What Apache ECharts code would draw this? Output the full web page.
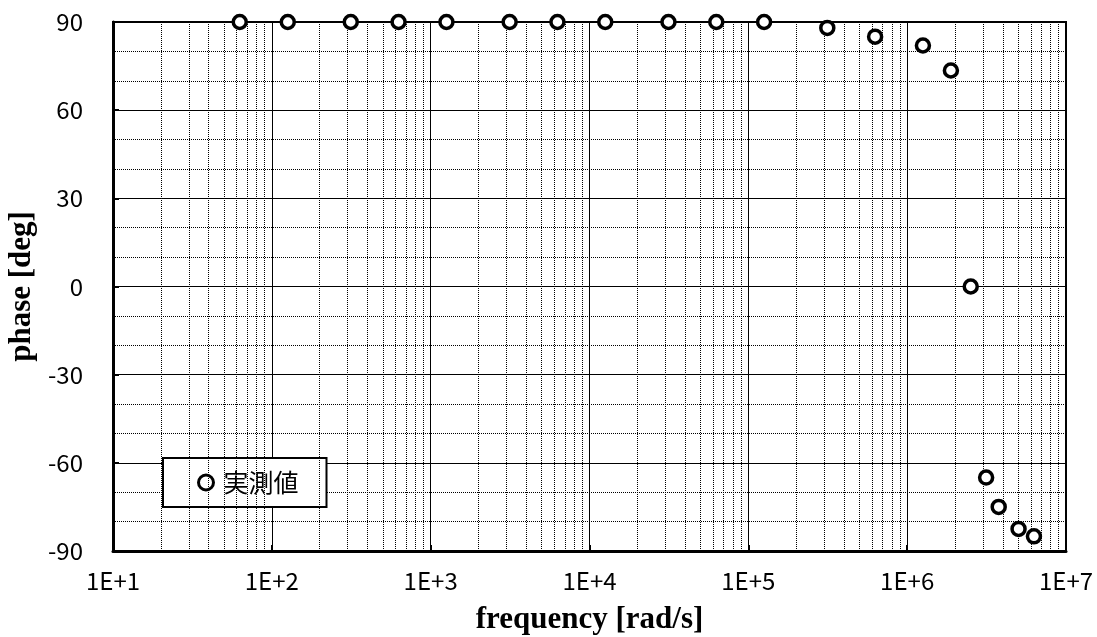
<!DOCTYPE html>
<html>
<head>
<meta charset="utf-8">
<script src="https://cdn.jsdelivr.net/npm/echarts@6/dist/echarts.min.js"></script>
<style>
html,body{margin:0;padding:0;background:#fff;}
#chart{width:1097px;height:637px;}
</style>
</head>
<body>
<div id="chart"></div>
<script>
// frequency [rad/s]
const frequency = [62.8, 126, 314, 628, 1257, 3142, 6283, 12566, 31416, 62832, 125664, 314159, 628319, 1256637, 1884956, 2513274, 3141593, 3769911, 5026548, 6283185];
// phase [deg]
const phase = [90, 90, 90, 90, 90, 90, 90, 90, 90, 90, 90, 88, 85, 82, 73.5, 0, -65, -75, -82.5, -85];
const seriesName = '実測値';
const xTickLabels = ['1E+1', '1E+2', '1E+3', '1E+4', '1E+5', '1E+6', '1E+7'];
const xTickValues = [10, 100, 1000, 10000, 100000, 1000000, 10000000];
const yTickLabels = ['-90', '-60', '-30', '0', '30', '60', '90'];
const minorMultipliers = [2, 3, 4, 5, 6, 7, 8, 9];

const minorX = [];
for (let d = 0; d < xTickValues.length - 1; d++) {
  for (const m of minorMultipliers) minorX.push({ xAxis: xTickValues[d] * m });
}

const labelFont = '"Noto Sans CJK JP", "Noto Sans", sans-serif';
const titleFont = '"Liberation Serif", "Times New Roman", serif';

const chart = echarts.init(document.getElementById('chart'), null, { renderer: 'canvas' });
chart.setOption({
  animation: false,
  backgroundColor: '#fff',
  grid: {
    left: 113, right: 31, top: 22, bottom: 86,
    outerBoundsMode: 'none', containLabel: false,
    show: true, borderColor: '#000', borderWidth: 2, backgroundColor: 'transparent'
  },
  legend: {
    left: 163, top: 458,
    orient: 'vertical',
    backgroundColor: '#fff',
    borderColor: '#000', borderWidth: 2,
    padding: [12, 28, 12, 34],
    itemWidth: 15, itemHeight: 15,
    icon: 'circle',
    itemStyle: { color: '#fff', borderColor: '#000', borderWidth: 3 },
    textStyle: { fontFamily: labelFont, fontSize: 25, color: '#000', padding: [0, 0, 0, 5] },
    data: [seriesName]
  },
  xAxis: {
    type: 'log', logBase: 10, min: xTickValues[0], max: xTickValues[xTickValues.length - 1],
    name: 'frequency [rad/s]', nameLocation: 'middle', nameGap: 53,
    nameTextStyle: { fontFamily: titleFont, fontWeight: 'bold', fontSize: 31, color: '#000' },
    axisLine: { show: true, onZero: false, lineStyle: { color: '#000', width: 3 } },
    axisTick: { show: true, inside: true, length: 6, lineStyle: { color: '#000', width: 2 } },
    axisLabel: {
      color: '#000', fontFamily: labelFont, fontSize: 24, margin: 18,
      formatter: v => { const i = xTickValues.findIndex(t => Math.abs(t - v) / t < 1e-6); return i >= 0 ? xTickLabels[i] : ''; }
    },
    splitLine: { show: true, lineStyle: { color: '#000', width: 1 } }
  },
  yAxis: {
    type: 'value', min: -90, max: 90, interval: 30,
    name: 'phase [deg]', nameLocation: 'middle', nameGap: 69, nameRotate: 90,
    nameTextStyle: { fontFamily: titleFont, fontWeight: 'bold', fontSize: 31, color: '#000' },
    axisLine: { show: true, onZero: false, lineStyle: { color: '#000', width: 3 } },
    axisTick: { show: true, inside: true, length: 6, lineStyle: { color: '#000', width: 2 } },
    axisLabel: {
      color: '#000', fontFamily: labelFont, fontSize: 24, margin: 30,
      formatter: v => { const i = yTickLabels.indexOf(String(v)); return i >= 0 ? yTickLabels[i] : ''; }
    },
    splitLine: { show: true, lineStyle: { color: '#000', width: 1 } },
    minorTick: { show: false, splitNumber: 3 },
    minorSplitLine: { show: true, lineStyle: { color: '#000', width: 1, type: [1, 1] } }
  },
  series: [
    {
      name: 'minor-grid', type: 'scatter', data: [], silent: true, z: 1,
      markLine: {
        silent: true, animation: false, symbol: ['none', 'none'],
        label: { show: false },
        lineStyle: { color: '#000', width: 1, type: [1, 1] },
        emphasis: { disabled: true },
        data: minorX
      }
    },
    {
      name: seriesName, type: 'scatter', z: 5,
      clip: false,
      symbol: 'circle', symbolSize: 13,
      itemStyle: { color: '#fff', borderColor: '#000', borderWidth: 3.5, opacity: 1 },
      data: frequency.map((f, i) => [f, phase[i]])
    }
  ]
});
</script>
</body>
</html>
